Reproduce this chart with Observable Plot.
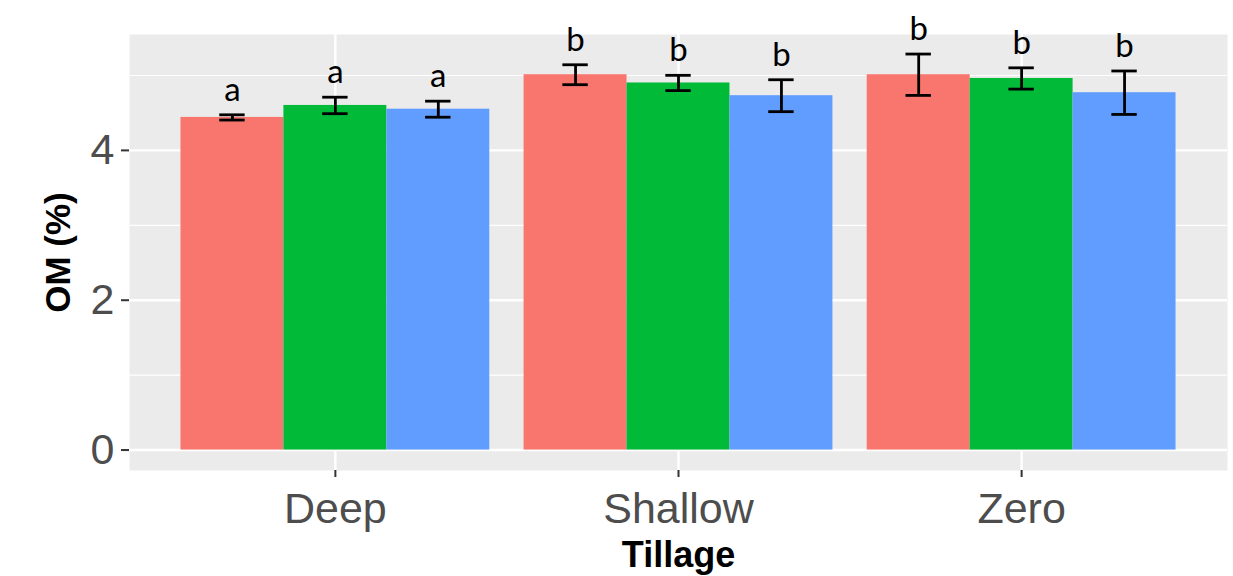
<!DOCTYPE html>
<html>
<head>
<meta charset="utf-8">
<script src="https://cdn.jsdelivr.net/npm/d3@7"></script>
<script src="https://cdn.jsdelivr.net/npm/@observablehq/plot@0.6"></script>
<style>
  body { margin: 0; background: #ffffff; }
  #chart svg { display: block; }
</style>
</head>
<body>
<div id="chart"></div>
<script>
// ---- data ----
const tillage = ["Deep", "Shallow", "Zero"];
const treatments = ["Treatment 1", "Treatment 2", "Treatment 3"];
const meanDeep = [4.44, 4.60, 4.55];
const meanShallow = [5.01, 4.90, 4.73];
const meanZero = [5.01, 4.96, 4.77];
const seDeep = [0.035, 0.11, 0.107];
const seShallow = [0.133, 0.102, 0.213];
const seZero = [0.276, 0.142, 0.29];
const lettersDeep = ["a", "a", "a"];
const lettersShallow = ["b", "b", "b"];
const lettersZero = ["b", "b", "b"];
const yTicks = [0, 2, 4];
const yMinorTicks = [1, 3, 5];
const colors = ["#F8766D", "#00BA38", "#619CFF"];

// ---- build table ----
const means = [meanDeep, meanShallow, meanZero];
const ses = [seDeep, seShallow, seZero];
const letters = [lettersDeep, lettersShallow, lettersZero];
const dodge = 0.9, nT = treatments.length, bw = dodge / nT, capHalf = 0.037;
const rows = [];
tillage.forEach((t, i) => {
  treatments.forEach((tr, k) => {
    const x1 = (i + 1) - dodge / 2 + k * bw;
    rows.push({
      tillage: t, treatment: tr,
      mean: means[i][k], se: ses[i][k], letter: letters[i][k],
      x1, x2: x1 + bw, xc: x1 + bw / 2
    });
  });
});
const xPos = tillage.map((_, i) => i + 1);

const chart = Plot.plot({
  width: 1233,
  height: 576,
  marginLeft: 129,
  marginRight: 6,
  marginTop: 34,
  marginBottom: 106,
  x: { domain: [0.4, 3.6] },
  y: { domain: [-0.273, 5.547] },
  color: { domain: treatments, range: colors },
  style: { fontFamily: "'Liberation Sans', Arial, sans-serif", background: "#ffffff", color: "black" },
  marks: [
    Plot.frame({ fill: "#EBEBEB", stroke: "none" }),
    Plot.ruleY(yMinorTicks, { stroke: "#ffffff", strokeWidth: 1.2 }),
    Plot.ruleY(yTicks, { stroke: "#ffffff", strokeWidth: 2.4 }),
    Plot.ruleX(xPos, { stroke: "#ffffff", strokeWidth: 2.4 }),
    Plot.rect(rows, { x1: "x1", x2: "x2", y1: 0, y2: "mean", fill: "treatment" }),
    Plot.ruleX(rows, { x: "xc", y1: d => d.mean - d.se, y2: d => d.mean + d.se, stroke: "black", strokeWidth: 2.8 }),
    Plot.ruleY(rows, { y: d => d.mean - d.se, x1: d => d.xc - capHalf, x2: d => d.xc + capHalf, stroke: "black", strokeWidth: 2.8 }),
    Plot.ruleY(rows, { y: d => d.mean + d.se, x1: d => d.xc - capHalf, x2: d => d.xc + capHalf, stroke: "black", strokeWidth: 2.8 }),
    Plot.text(rows, { x: "xc", y: d => d.mean + d.se, text: "letter", lineAnchor: "bottom", dy: -14,
      fontSize: 33, fontFamily: "Lato, 'Open Sans', sans-serif", fill: "black" }),
    Plot.axisY({ ticks: yTicks, tickFormat: d => String(d), tickSize: 8, tickPadding: 7, fontSize: 43, stroke: "#333333",
      fill: "#4D4D4D", strokeWidth: 2, label: null }),
    Plot.axisX({ ticks: xPos, tickFormat: v => tillage[v - 1], tickSize: 7, tickPadding: 15, fontSize: 43,
      stroke: "#333333", fill: "#4D4D4D", strokeWidth: 2, label: null }),
    Plot.text(["OM (%)"], { frameAnchor: "left", dx: -71, rotate: -90, textAnchor: "middle", lineAnchor: "middle",
      fontWeight: "bold", fontSize: 35, fill: "black" }),
    Plot.text(["Tillage"], { frameAnchor: "bottom", dy: 85, textAnchor: "middle", lineAnchor: "middle",
      fontWeight: "bold", fontSize: 36, fill: "black" })
  ]
});
document.getElementById("chart").appendChild(chart);
</script>
</body>
</html>
